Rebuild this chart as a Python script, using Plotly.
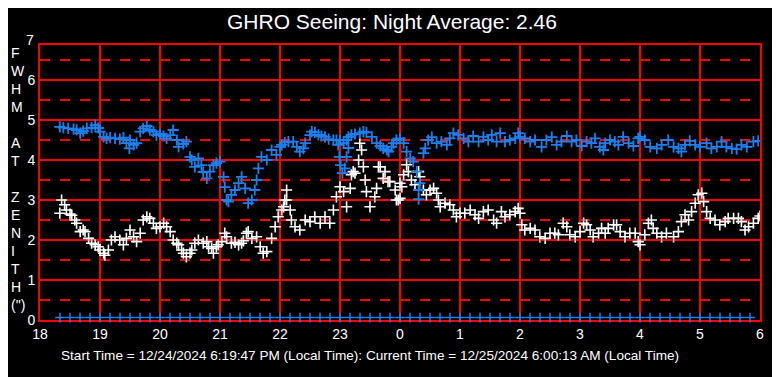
import plotly.graph_objects as go

# ---------------- data ----------------
hour_ticks = [18, 19, 20, 21, 22, 23, 24, 25, 26, 27, 28, 29, 30]
hour_labels = ["18", "19", "20", "21", "22", "23", "0", "1", "2", "3", "4", "5", "6"]
y_ticks = [0, 1, 2, 3, 4, 5, 6]

blue_t = [18.33, 18.39, 18.47, 18.56, 18.61, 18.67, 18.72, 18.78, 18.86, 18.92, 18.97, 19.0, 19.06, 19.11,
          19.17, 19.25, 19.33, 19.39, 19.44, 19.49, 19.50, 19.56, 19.61, 19.67, 19.72, 19.78, 19.83, 19.89,
          19.94,
          20.0, 20.06, 20.11, 20.17, 20.22, 20.28, 20.31, 20.39, 20.44, 20.5, 20.53, 20.58, 20.64, 20.69,
          20.72, 20.78, 20.83, 20.89, 20.94, 21.0, 21.06, 21.08, 21.11, 21.14, 21.19, 21.25, 21.31, 21.36,
          21.42, 21.47, 21.53, 21.58, 21.61, 21.64, 21.69, 21.78, 21.86, 21.94, 22.0,
          22.03, 22.08, 22.14, 22.22, 22.28, 22.33, 22.39, 22.42, 22.5, 22.53, 22.58, 22.64, 22.69, 22.75,
          22.81, 22.89, 22.94, 22.97, 22.99, 23.0, 23.01, 23.04, 23.06, 23.08, 23.11, 23.11, 23.14, 23.14,
          23.19, 23.25, 23.33, 23.39, 23.44, 23.53, 23.61, 23.67, 23.72, 23.78, 23.81, 23.86, 23.89, 23.94,
          24.0, 24.06, 24.11, 24.17, 24.22, 24.28, 24.31, 24.31, 24.33, 24.39, 24.42, 24.47, 24.53, 24.61,
          24.69, 24.78, 24.83, 24.89, 24.97, 25.06, 25.14, 25.22, 25.31, 25.39, 25.47, 25.53, 25.61, 25.67,
          25.75, 25.83, 25.92, 25.97,
          26.0, 26.08, 26.17, 26.25, 26.36, 26.44, 26.53, 26.61, 26.69, 26.78, 26.86, 26.94, 27.03, 27.11,
          27.19, 27.25, 27.33, 27.39, 27.42, 27.5, 27.58, 27.64, 27.72, 27.81, 27.89, 27.97,
          28.0, 28.08, 28.17, 28.28, 28.36, 28.47, 28.56, 28.64, 28.69, 28.75, 28.83, 28.92, 29.0, 29.11,
          29.19, 29.28, 29.36, 29.44, 29.53, 29.61, 29.69, 29.78, 29.89, 29.97]
blue_v = [4.83, 4.81, 4.79, 4.77, 4.75, 4.67, 4.72, 4.79, 4.81, 4.87, 4.80, 4.71, 4.58, 4.54,
          4.56, 4.54, 4.52, 4.56, 4.42, 4.29, 4.50, 4.38, 4.42, 4.71, 4.79, 4.85, 4.75, 4.71,
          4.62,
          4.65, 4.60, 4.54, 4.62, 4.75, 4.50, 4.33, 4.40, 4.46, 4.08, 4.00, 3.83, 4.04, 3.87,
          3.70, 3.54, 3.71, 3.87, 3.92, 3.96, 3.58, 3.32, 3.00, 2.96, 3.13, 3.25, 3.42, 3.58,
          3.29, 2.92, 3.00, 3.25, 3.50, 3.79, 4.08, 4.00, 4.25, 4.13, 4.33,
          4.38, 4.44, 4.46, 4.46, 4.33, 4.21, 4.29, 4.42, 4.62, 4.71, 4.69, 4.63, 4.60, 4.58,
          4.52, 4.50, 4.50, 4.38, 4.08, 4.50, 3.87, 3.67, 4.42, 3.79, 4.50, 4.08, 4.58, 4.30,
          4.63, 4.65, 4.67, 4.71, 4.69, 4.58, 4.42, 4.35, 4.29, 4.25, 4.21, 4.33, 4.42, 4.50,
          4.54, 4.42, 4.21, 4.04, 3.96, 3.71, 3.25, 3.02, 3.42, 4.17, 4.29, 4.50, 4.57, 4.42,
          4.46, 4.38, 4.54, 4.67, 4.63, 4.54, 4.46, 4.60, 4.46, 4.58, 4.50, 4.63, 4.46, 4.67,
          4.46, 4.50, 4.54, 4.67,
          4.58, 4.54, 4.46, 4.50, 4.33, 4.50, 4.57, 4.38, 4.46, 4.60, 4.46, 4.50, 4.35, 4.46,
          4.42, 4.54, 4.33, 4.25, 4.42, 4.50, 4.46, 4.38, 4.58, 4.42, 4.35, 4.54,
          4.58, 4.50, 4.33, 4.29, 4.38, 4.50, 4.33, 4.29, 4.21, 4.38, 4.48, 4.38, 4.33, 4.42,
          4.29, 4.33, 4.46, 4.33, 4.29, 4.27, 4.38, 4.33, 4.46, 4.48]

white_t = [18.33, 18.36, 18.41, 18.44, 18.5, 18.53, 18.58, 18.61, 18.67, 18.72, 18.75, 18.81, 18.86, 18.92,
           18.97, 19.0, 19.06, 19.08, 19.14, 19.19, 19.25, 19.33, 19.39, 19.44, 19.5, 19.56, 19.61, 19.67,
           19.72, 19.78, 19.83, 19.89, 19.94,
           20.0, 20.06, 20.11, 20.17, 20.22, 20.28, 20.31, 20.36, 20.39, 20.44, 20.5, 20.53, 20.58, 20.64,
           20.72, 20.78, 20.81, 20.86, 20.89, 20.94, 20.97, 21.03, 21.08, 21.11, 21.19, 21.25, 21.31, 21.36,
           21.39, 21.44, 21.47, 21.53, 21.61, 21.67, 21.72, 21.78, 21.86, 21.92, 21.97, 22.03, 22.08,
           22.06, 22.11, 22.11, 22.17, 22.19, 22.25, 22.33, 22.42, 22.5, 22.58, 22.67, 22.75, 22.83, 22.89,
           22.94, 23.0, 23.06, 23.11, 23.17, 23.19, 23.22, 23.25, 23.31, 23.33, 23.36, 23.39, 23.42, 23.44,
           23.5, 23.58, 23.61, 23.64, 23.67, 23.72, 23.75, 23.8, 23.83, 23.92, 23.94, 23.97,
           24.0, 24.0, 24.03, 24.06, 24.11, 24.14, 24.19, 24.25, 24.31, 24.33, 24.39, 24.44, 24.5, 24.56,
           24.61, 24.64, 24.67, 24.75, 24.83, 24.89, 24.94, 25.0, 25.08, 25.17, 25.25, 25.31, 25.39, 25.47,
           25.56, 25.61, 25.69, 25.75, 25.83, 25.92, 25.97,
           26.0, 26.03, 26.08, 26.17, 26.25, 26.33, 26.42, 26.5, 26.58, 26.64, 26.72, 26.78, 26.83, 26.92,
           27.0, 27.06, 27.11, 27.17, 27.22, 27.31, 27.36, 27.42, 27.47, 27.56, 27.61, 27.67, 27.75, 27.83,
           27.92, 27.97,
           28.0, 28.08, 28.14, 28.19, 28.22, 28.28, 28.36, 28.44, 28.56, 28.64, 28.69, 28.75, 28.81, 28.86,
           28.92, 28.97, 29.03, 29.06, 29.11, 29.17, 29.25, 29.33, 29.42, 29.47, 29.56, 29.64, 29.69, 29.75,
           29.81, 29.89, 29.97, 30.0]
white_v = [2.67, 3.00, 2.88, 2.75, 2.65, 2.62, 2.50, 2.42, 2.21, 2.25, 2.21, 2.04, 1.92, 1.88,
           1.83, 1.75, 1.67, 1.62, 1.75, 2.00, 2.08, 2.00, 1.88, 2.04, 2.25, 2.08, 1.96, 2.17,
           2.50, 2.58, 2.54, 2.42, 2.29,
           2.33, 2.42, 2.33, 2.21, 2.00, 1.92, 1.88, 1.75, 1.67, 1.58, 1.67, 1.75, 1.92, 2.00,
           1.92, 1.96, 1.83, 1.79, 1.67, 1.83, 1.88, 1.96, 2.17, 2.08, 1.92, 1.94, 1.88, 1.92,
           1.98, 2.17, 2.21, 2.04, 2.08, 1.83, 1.67, 1.71, 2.04, 2.33, 2.58, 2.75, 3.00,
           2.83, 3.00, 3.25, 2.75, 2.50, 2.33, 2.25, 2.50, 2.46, 2.58, 2.42, 2.58, 2.42, 2.75,
           3.08, 3.33, 3.21, 2.83, 3.29, 3.63, 3.71, 3.67, 4.00, 4.42, 4.25, 3.83, 3.50, 3.21,
           2.83, 3.08, 3.29, 3.83, 3.83, 3.54, 3.71, 3.46, 3.46, 3.25, 3.00, 3.00,
           3.42, 3.04, 3.33, 3.63, 3.88, 3.71, 3.50, 3.38, 3.71, 3.58, 3.25, 3.13, 3.25, 3.29,
           3.17, 3.00, 2.83, 2.92, 2.88, 2.75, 2.58, 2.67, 2.67, 2.75, 2.63, 2.54, 2.71, 2.75,
           2.50, 2.42, 2.71, 2.58, 2.63, 2.71, 2.79,
           2.67, 2.38, 2.25, 2.29, 2.25, 2.08, 2.04, 2.17, 2.17, 2.13, 2.42, 2.33, 2.13, 2.08,
           2.21, 2.42, 2.38, 2.25, 2.08, 2.17, 2.29, 2.17, 2.29, 2.38, 2.38, 2.21, 2.08, 2.17,
           2.17, 1.96,
           1.88, 2.13, 2.42, 2.50, 2.29, 2.17, 2.08, 2.17, 2.08, 2.21, 2.46, 2.63, 2.50, 2.71,
           2.92, 3.13, 3.17, 2.96, 2.71, 2.54, 2.50, 2.38, 2.46, 2.54, 2.54, 2.54, 2.46, 2.25,
           2.33, 2.42, 2.54, 2.60]

# sample markers along the bottom: minutes after 18:00
zero_minutes = [20, 30, 40, 50, 60, 70, 80, 90, 100, 110, 120, 130, 140, 150, 160, 170, 180, 190,
                200, 210, 220, 230, 240, 250, 260, 270, 280, 290, 300, 310, 320, 330, 340, 350, 360,
                370, 380, 390, 400, 410, 420, 430, 440, 450, 460, 470, 480, 490, 500, 510, 520, 530,
                540, 550, 560, 570, 580, 590, 600, 610, 620, 630, 640, 650, 660, 670, 680, 690, 700, 710]
zero_vals = [0.06] * len(zero_minutes)

title_text = "GHRO Seeing: Night Average: 2.46"
footer_text = ("Start Time = 12/24/2024 6:19:47 PM (Local Time): "
               "Current Time = 12/25/2024 6:00:13 AM (Local Time)")
ylabel_chars = ["F", "W", "H", "M", "", "A", "T", "", "Z", "E", "N", "I", "T", "H", "(\")"]

# ---------------- figure ----------------
BLUE = "#1e80ee"
RED = "#ff0000"
FONT = "Liberation Sans, Arial, sans-serif"

# the page body has an 8px margin; figure is sized so the plot lands at page x 40..760, y 45..320
W, H = 772, 369
ML, MR, MT, MB = 32, 20, 37, 57
PW, PH = W - ML - MR, H - MT - MB  # 720 x 275

fig = go.Figure()

fig.add_trace(go.Scatter(
    x=[18 + m / 60 for m in zero_minutes], y=zero_vals, mode="markers",
    marker=dict(symbol="cross-thin", size=7, line=dict(color=BLUE, width=1.5)),
    hoverinfo="skip", showlegend=False, cliponaxis=False))

fig.add_trace(go.Scatter(
    x=white_t, y=white_v, mode="markers",
    marker=dict(symbol="cross-thin", size=8, line=dict(color="white", width=1.6)),
    showlegend=False))

fig.add_trace(go.Scatter(
    x=blue_t, y=blue_v, mode="markers",
    marker=dict(symbol="cross-thin", size=8, line=dict(color=BLUE, width=1.8)),
    showlegend=False))

half_lines = [0.5, 1.5, 2.5, 3.5, 4.5, 5.5, 6.5]

fig.update_layout(
    width=W, height=H,
    paper_bgcolor="black", plot_bgcolor="black",
    margin=dict(l=ML, r=MR, t=MT, b=MB, autoexpand=False),
    font=dict(family=FONT, color="white", size=14),
    title=dict(text=title_text, x=(392 - 8) / W, xanchor="center", y=1 - 14 / H, yanchor="middle",
               font=dict(size=21, color="white", family=FONT)),
    xaxis=dict(range=[18, 30], tickvals=hour_ticks, ticktext=hour_labels,
               showgrid=True, gridcolor=RED, gridwidth=2, zeroline=False,
               showline=True, linecolor=RED, linewidth=2, mirror=True, layer="below traces",
               ticks="", tickfont=dict(size=14, color="white"), fixedrange=True, automargin=False),
    yaxis=dict(range=[0, 6.875], tickvals=y_ticks,
               showgrid=True, gridcolor=RED, gridwidth=2, zeroline=False,
               showline=True, linecolor=RED, linewidth=2, mirror=True, layer="below traces",
               ticks="", tickfont=dict(size=14, color="white"), fixedrange=True, automargin=False,
               minor=dict(tickvals=half_lines, showgrid=True, gridcolor=RED, gridwidth=2,
                          griddash="10px,10px")),
)

# "7" label at the top of y axis
fig.add_annotation(text="7", xref="paper", yref="paper", x=0, y=1 + 5 / PH,
                   xanchor="right", yanchor="middle", xshift=-4, showarrow=False,
                   font=dict(size=14, color="white", family=FONT))

# vertical y-axis title letters (page x of left edge ~8)
for i, ch in enumerate(ylabel_chars):
    if not ch:
        continue
    ypix = 53 + i * 18
    fig.add_annotation(text=ch, xref="paper", yref="paper",
                       x=(9 - 40) / PW, y=(320 - ypix) / PH, xanchor="left", yanchor="middle",
                       showarrow=False, font=dict(size=14, color="white", family=FONT))

fig.add_annotation(text=footer_text, xref="paper", yref="paper",
                   x=(370 - 40) / PW, y=-(355 - 320) / PH, xanchor="center", yanchor="middle",
                   showarrow=False, font=dict(size=13.6, color="white", family=FONT))

fig.write_html("out.html")
